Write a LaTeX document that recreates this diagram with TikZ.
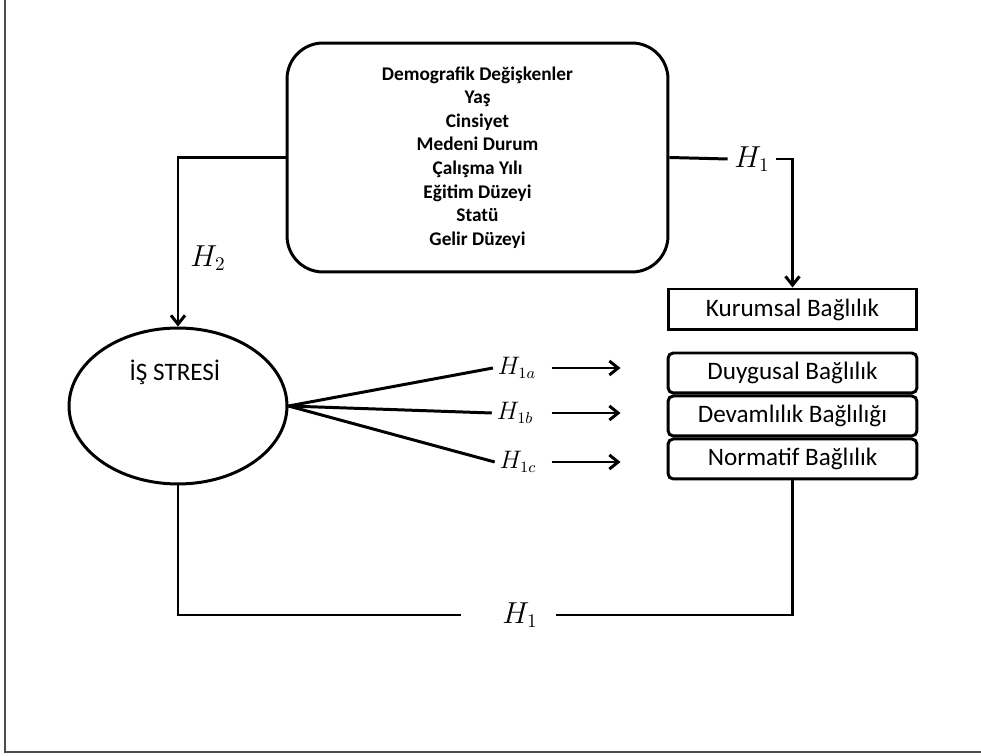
\documentclass[tikz,border=0pt]{standalone}
\usepackage{amsmath}
\usepackage[no-math]{fontspec}
\usetikzlibrary{calc,positioning,arrows.meta,shapes.geometric}
\newfontfamily\carlito{Carlito}

\begin{document}
\begin{tikzpicture}[x=0.02cm, y=-0.02cm, line width=1.7pt,
		arr/.style={-{Straight Barb[length=5pt,width=8pt]}},
		demobox/.style={draw, rounded corners=0.72cm, minimum width=7.62cm, minimum height=4.58cm, align=center, font=\carlito\bfseries\fontsize{11}{13.4}\selectfont},
		stresnode/.style={draw, ellipse, minimum width=4.36cm, minimum height=3.12cm, inner sep=0pt},
		kbox/.style={draw, minimum width=4.98cm, minimum height=0.82cm, inner sep=0pt, font=\carlito\fontsize{14.3}{16}\selectfont},
		bbox/.style={draw, rounded corners=3pt, minimum width=4.98cm, minimum height=0.8cm, inner sep=0pt, font=\carlito\fontsize{14.3}{16}\selectfont},
		hyp/.style={font=\fontsize{16}{19}\selectfont, inner sep=3pt},
		hypsmall/.style={font=\fontsize{13.5}{16}\selectfont, inner sep=2pt}]
	\useasboundingbox (0,0) rectangle (981,756);
	\draw[line width=1pt, gray!60!black] (5,0) -- (5,752) -- (981,752);
	
	\node[demobox] (demo) at (477.5,157.5) {Demografik Değişkenler\\Yaş\\Cinsiyet\\Medeni Durum\\Çalışma Yılı\\Eğitim Düzeyi\\Statü\\Gelir Düzeyi};
	\node[stresnode] (stres) at (178,406) {};
	\node[font=\carlito\fontsize{14.3}{16}\selectfont] (stresname) at (175,372) {İŞ STRESİ};
	
	\node[kbox] (kur) at (792.5,309.5) {Kurumsal Bağlılık};
	\node[bbox] (duy) at (792.5,373) {Duygusal Bağlılık};
	\node[bbox, below=0pt of duy] (dev) {Devamlılık Bağlılığı};
	\node[bbox, below=0pt of dev] (nor) {Normatif Bağlılık};
	
	\node[hyp] (h2) at (208,258) {$H_2$};
	\node[hyp] (h1top) at (752,159) {$H_1$};
	\node[hyp] (h1bot) at (520,615) {$H_1$};
	\node[hypsmall] (h1a) at (517,368) {$H_{1a}$};
	\node[hypsmall] (h1b) at (515,413) {$H_{1b}$};
	\node[hypsmall] (h1c) at (518,462) {$H_{1c}$};
	
	\draw[arr] (demo.west) -| (stres.north);
	\draw (demo.east) -- (h1top.west);
	\draw[arr] (h1top.east) -| (kur.north);
	
	\draw (stres.east) -- (h1a.west);
	\draw (stres.east) -- (h1b.west);
	\draw (stres.east) -- (h1c.west);
	\draw[arr] ($(h1a.east -| duy.west)+(-115,0)$) -- ($(h1a.east -| duy.west)+(-46,0)$);
	\draw[arr] ($(h1b.east -| duy.west)+(-115,0)$) -- ($(h1b.east -| duy.west)+(-46,0)$);
	\draw[arr] ($(h1c.east -| duy.west)+(-115,0)$) -- ($(h1c.east -| duy.west)+(-46,0)$);
	
	\draw[shorten >=0.7cm] (stres.south) |- (h1bot.west);
	\draw[shorten <=0.24cm] (h1bot.east) -| (nor.south);
\end{tikzpicture}
\end{document}
